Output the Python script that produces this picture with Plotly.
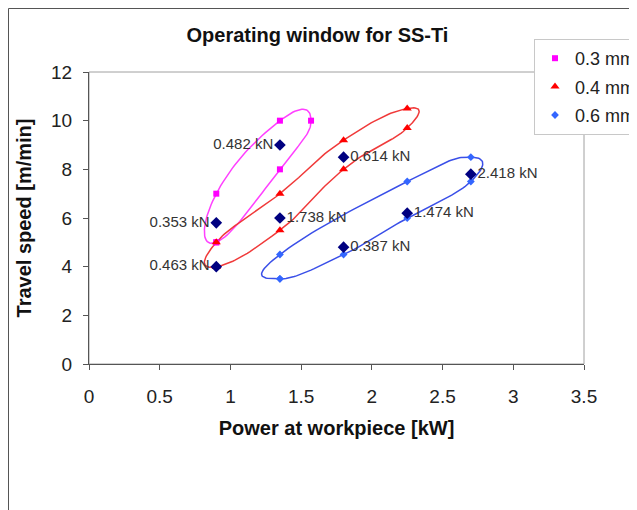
import numpy as np
import plotly.graph_objects as go

# ---------------- data ----------------
series_names = ["0.3 mm", "0.4 mm", "0.6 mm"]

power_03 = [0.9, 0.9, 1.35, 1.57, 1.35, 0.9]
speed_03 = [5.0, 7.0, 10.0, 10.0, 8.0, 5.0]

power_04 = [0.9, 0.9, 1.35, 1.8, 2.25, 2.25, 1.8, 1.35, 0.9]
speed_04 = [4.0, 5.0, 7.0, 9.2, 10.5, 9.7, 8.0, 5.5, 4.0]

power_06 = [1.35, 1.35, 2.25, 2.7, 2.7, 2.25, 1.8, 1.35]
speed_06 = [3.5, 4.5, 7.5, 8.5, 7.5, 6.0, 4.5, 3.5]

force_power = [0.9, 0.9, 1.35, 1.35, 1.8, 1.8, 2.25, 2.7]
force_speed = [5.8, 4.0, 9.0, 6.0, 8.5, 4.8, 6.2, 7.8]
force_labels = ["0.353 kN", "0.463 kN", "0.482 kN", "1.738 kN",
                "0.614 kN", "0.387 kN", "1.474 kN", "2.418 kN"]

x_range = [0, 3.5]
y_range = [0, 12]
x_ticks = [0, 0.5, 1, 1.5, 2, 2.5, 3, 3.5]
y_ticks = [0, 2, 4, 6, 8, 10, 12]

# ---------------- layout geometry ----------------
OFF = 8                      # page body margin
W, H = 637 - OFF, 510 - OFF
L, T = 89 - OFF, 72 - OFF
PW, PH = 495, 292
R, B = W - L - PW, H - T - PH

def paper_x(sx):
    return (sx - (L + OFF)) / PW

def paper_y(sy):
    return ((T + OFF + PH) - sy) / PH

# ---------------- smoothing (Excel-like closed smoothed line) ----------------
def smooth_closed(xs, ys, tension=0.25, n=24):
    kx = PW / (x_range[1] - x_range[0])
    ky = PH / (y_range[1] - y_range[0])
    P = np.column_stack([np.asarray(xs, float) * kx, np.asarray(ys, float) * ky])
    closed = np.allclose(P[0], P[-1])
    if closed:
        P = P[:-1]
    m = len(P)
    out = []
    s = np.linspace(0, 1, n, endpoint=False)[:, None]
    segs = m if closed else m - 1
    for i in range(segs):
        p0 = P[i]
        p3 = P[(i + 1) % m]
        prev = P[(i - 1) % m] if (closed or i > 0) else P[i]
        nxt = P[(i + 2) % m] if (closed or i + 2 < m) else P[(i + 1) % m]
        c1 = p0 + tension * (p3 - prev)
        c2 = p3 - tension * (nxt - p0)
        pts = ((1 - s) ** 3) * p0 + 3 * ((1 - s) ** 2) * s * c1 + 3 * (1 - s) * s ** 2 * c2 + s ** 3 * p3
        out.append(pts)
    out.append(P[0:1] if closed else P[-1:])
    Q = np.vstack(out)
    return Q[:, 0] / kx, Q[:, 1] / ky

# ---------------- style ----------------
FONT = "Arial, 'Liberation Sans', sans-serif"
label_pos = ["middle left", "middle left", "middle left", "middle right",
             "middle right", "middle right", "middle right", "middle right"]

series = [
    (power_03, speed_03, series_names[0], "#FF00FF", "#FF40FF", "square", 6),
    (power_04, speed_04, series_names[1], "#FF0000", "#F03A3A", "triangle-up", 8),
    (power_06, speed_06, series_names[2], "#3366FF", "#3A4FE8", "diamond", 6),
]

fig = go.Figure()

for xs, ys, name, mcol, lcol, sym, msz in series:
    cx, cy = smooth_closed(xs, ys)
    fig.add_trace(go.Scatter(
        x=cx, y=cy, mode="lines", showlegend=False, hoverinfo="skip",
        line=dict(color=lcol, width=1.5),
    ))

for i, (xs, ys, name, mcol, lcol, sym, msz) in enumerate(series):
    fig.add_trace(go.Scatter(
        x=xs, y=ys, mode="markers", name=name, legendgroup=f"g{i}",
        marker=dict(color=mcol, symbol=sym, size=msz, line=dict(width=0)),
    ))

fig.add_trace(go.Scatter(
    x=force_power, y=force_speed, mode="markers+text", showlegend=False,
    text=force_labels, textposition=label_pos,
    textfont=dict(family=FONT, size=15, color="#333333"),
    marker=dict(color="#000080", symbol="diamond", size=9, line=dict(width=0)),
))

fig.update_layout(
    width=W, height=H,
    margin=dict(l=L, r=R, t=T, b=B, autoexpand=False),
    paper_bgcolor="white", plot_bgcolor="white",
    font=dict(family=FONT, color="#222222"),
    title=dict(text="<b>Operating window for SS-Ti</b>",
               x=(317.5 - OFF) / W, xref="container", xanchor="center",
               y=1 - (35 - OFF) / H, yref="container", yanchor="middle",
               font=dict(family=FONT, size=20, color="#111111")),
    xaxis=dict(range=x_range, tickvals=x_ticks, showgrid=False, zeroline=False,
               showline=True, linecolor="#555555", linewidth=1,
               ticks="outside", ticklen=5, tickcolor="#555555",
               tickfont=dict(family=FONT, size=19, color="#222222"),
               ticklabelstandoff=10,
               title=dict(text="<b>Power at workpiece [kW]</b>", standoff=15,
                          font=dict(family=FONT, size=20, color="#111111"))),
    yaxis=dict(range=y_range, tickvals=y_ticks, showgrid=False, zeroline=False,
               showline=True, linecolor="#555555", linewidth=1,
               ticks="outside", ticklen=5, tickcolor="#555555",
               tickfont=dict(family=FONT, size=19, color="#222222"),
               ticklabelstandoff=7,
               title=dict(text="<b>Travel speed [m/min]</b>", standoff=14,
                          font=dict(family=FONT, size=20, color="#111111"))),
    legend=dict(x=paper_x(534), y=paper_y(39), xanchor="left", yanchor="top",
                bgcolor="white", bordercolor="#C8C8C8", borderwidth=1,
                traceorder="grouped", tracegroupgap=2,
                font=dict(family=FONT, size=18, color="#222222")),
    shapes=[
        dict(type="rect", xref="paper", yref="paper", x0=0, x1=1, y0=0, y1=1,
             line=dict(color="#A0A0A0", width=1), layer="below"),
        dict(type="rect", xref="paper", yref="paper",
             x0=paper_x(8.5), x1=paper_x(720), y0=paper_y(620), y1=paper_y(8.5),
             line=dict(color="#555555", width=1), layer="below"),
    ],
)

fig.write_html("out.html")
